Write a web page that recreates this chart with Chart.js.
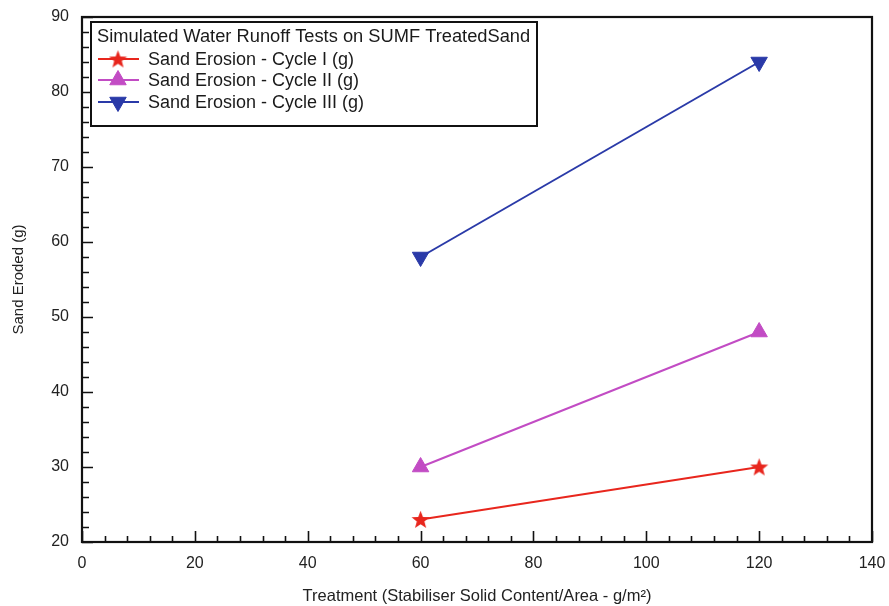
<!DOCTYPE html>
<html>
<head>
<meta charset="utf-8">
<script src="https://cdn.jsdelivr.net/npm/chart.js@4.4.1/dist/chart.umd.min.js"></script>
<style>
  html, body { margin: 0; padding: 0; background: #fff; }
  #wrap { width: 889px; height: 606px; }
</style>
</head>
<body>
<div id="wrap"><canvas id="c" width="889" height="606"></canvas></div>
<script>
// Treatment levels (g/m²) and sand eroded (g) per runoff cycle
const treatment = [60, 120];
const cycle1 = [23, 30];
const cycle2 = [30, 48];
const cycle3 = [58, 84];

const seriesNames = [
  'Sand Erosion - Cycle I (g)',
  'Sand Erosion - Cycle II (g)',
  'Sand Erosion - Cycle III (g)'
];
const legendTitle = 'Simulated Water Runoff Tests on SUMF TreatedSand';
const xTitle = 'Treatment (Stabiliser Solid Content/Area - g/m²)';
const yTitle = 'Sand Eroded (g)';

const RED = '#e8261d';
const MAGENTA = '#c24cc4';
const BLUE = '#2a3aa8';
const FONT = '"Liberation Sans", Arial, sans-serif';

// Filled five-point star marker
function starImage(color, size) {
  const cv = document.createElement('canvas');
  cv.width = size; cv.height = size;
  const g = cv.getContext('2d');
  const cx = size / 2, cy = size / 2 + 0.8;
  const R = size / 2, r = R * 0.42;
  g.beginPath();
  for (let i = 0; i < 10; i++) {
    const rad = i % 2 === 0 ? R : r;
    const a = -Math.PI / 2 + i * Math.PI / 5;
    const px = cx + rad * Math.cos(a), py = cy + rad * Math.sin(a);
    if (i === 0) g.moveTo(px, py); else g.lineTo(px, py);
  }
  g.closePath();
  g.fillStyle = color;
  g.fill();
  return cv;
}
const starMark = starImage(RED, 19);

function pts(ys) { return treatment.map((x, i) => ({ x: x, y: ys[i] })); }

const datasets = [
  { label: seriesNames[0], data: pts(cycle1), borderColor: RED, backgroundColor: RED,
    pointStyle: starMark, pointRadius: 9, borderWidth: 2, pointRotation: 0 },
  { label: seriesNames[1], data: pts(cycle2), borderColor: MAGENTA, backgroundColor: MAGENTA,
    pointStyle: 'triangle', pointRadius: 9.5, borderWidth: 2, pointBorderWidth: 1, pointRotation: 0 },
  { label: seriesNames[2], data: pts(cycle3), borderColor: BLUE, backgroundColor: BLUE,
    pointStyle: 'triangle', pointRadius: 9.5, borderWidth: 2, pointBorderWidth: 1, pointRotation: 180 }
];

// Frame, inward ticks and boxed legend
const decorations = {
  id: 'decorations',
  afterDatasetsDraw(chart) {
    const ctx = chart.ctx;
    const a = chart.chartArea;
    const xs = chart.scales.x, ys = chart.scales.y;
    ctx.save();
    ctx.strokeStyle = '#111';
    ctx.lineWidth = 1.6;
    ctx.beginPath();
    for (let v = 0; v <= 140; v += 4) {
      const px = Math.round(xs.getPixelForValue(v)) + 0.5;
      const len = v % 20 === 0 ? 11 : 6;
      ctx.moveTo(px, a.bottom); ctx.lineTo(px, a.bottom - len);
    }
    for (let v = 20; v <= 90; v += 2) {
      const py = Math.round(ys.getPixelForValue(v)) + 0.5;
      const len = v % 10 === 0 ? 11 : 7;
      ctx.moveTo(a.left, py); ctx.lineTo(a.left + len, py);
    }
    ctx.stroke();
    ctx.lineWidth = 2.2;
    ctx.strokeRect(a.left, a.top, a.right - a.left, a.bottom - a.top);

    // legend box
    const bx = 91, by = 22, bw = 446, bh = 104;
    ctx.fillStyle = '#fff';
    ctx.fillRect(bx, by, bw, bh);
    ctx.lineWidth = 2;
    ctx.strokeStyle = '#111';
    ctx.strokeRect(bx, by, bw, bh);
    ctx.fillStyle = '#1a1a1a';
    ctx.font = '18.3px ' + FONT;
    ctx.textBaseline = 'middle';
    ctx.textAlign = 'left';
    ctx.fillText(legendTitle, 97, 37);
    ctx.font = '18px ' + FONT;
    const rows = [59, 80, 102];
    chart.data.datasets.forEach((ds, i) => {
      const y = rows[i];
      ctx.strokeStyle = ds.borderColor;
      ctx.fillStyle = ds.backgroundColor;
      ctx.lineWidth = 2;
      ctx.beginPath();
      ctx.moveTo(98, y); ctx.lineTo(139, y);
      ctx.stroke();
      ctx.lineWidth = 1;
      Chart.helpers.drawPoint(ctx, {
        pointStyle: ds.pointStyle, rotation: ds.pointRotation,
        radius: ds.pointRadius, borderWidth: 1
      }, 118, y);
      ctx.fillStyle = '#1a1a1a';
      ctx.fillText(ds.label, 148, y + 1);
    });
    ctx.restore();
  }
};

new Chart(document.getElementById('c'), {
  type: 'line',
  data: { datasets: datasets },
  options: {
    responsive: false,
    animation: false,
    devicePixelRatio: 1,
    layout: { padding: { top: 17, right: 17, left: 0, bottom: 0 } },
    plugins: { legend: { display: false }, tooltip: { enabled: false } },
    scales: {
      x: {
        type: 'linear', min: 0, max: 140,
        ticks: { stepSize: 20, color: '#222', font: { family: FONT, size: 16 }, padding: 12, maxRotation: 0 },
        grid: { display: false, drawTicks: false },
        border: { display: false },
        title: { display: true, text: xTitle, color: '#222', font: { family: FONT, size: 16.5 }, padding: { top: 10, bottom: 0 } },
        afterFit(s) { s.height = 64; s.paddingLeft = 0; s.paddingRight = 0; }
      },
      y: {
        type: 'linear', min: 20, max: 90,
        ticks: { stepSize: 10, color: '#222', font: { family: FONT, size: 16 }, padding: 13 },
        grid: { display: false, drawTicks: false },
        border: { display: false },
        title: { display: true, text: yTitle, color: '#222', font: { family: FONT, size: 15 }, padding: { top: 10, bottom: 0 } },
        afterFit(s) { s.width = 82; s.paddingTop = 0; s.paddingBottom = 0; }
      }
    }
  },
  plugins: [decorations]
});
</script>
</body>
</html>
